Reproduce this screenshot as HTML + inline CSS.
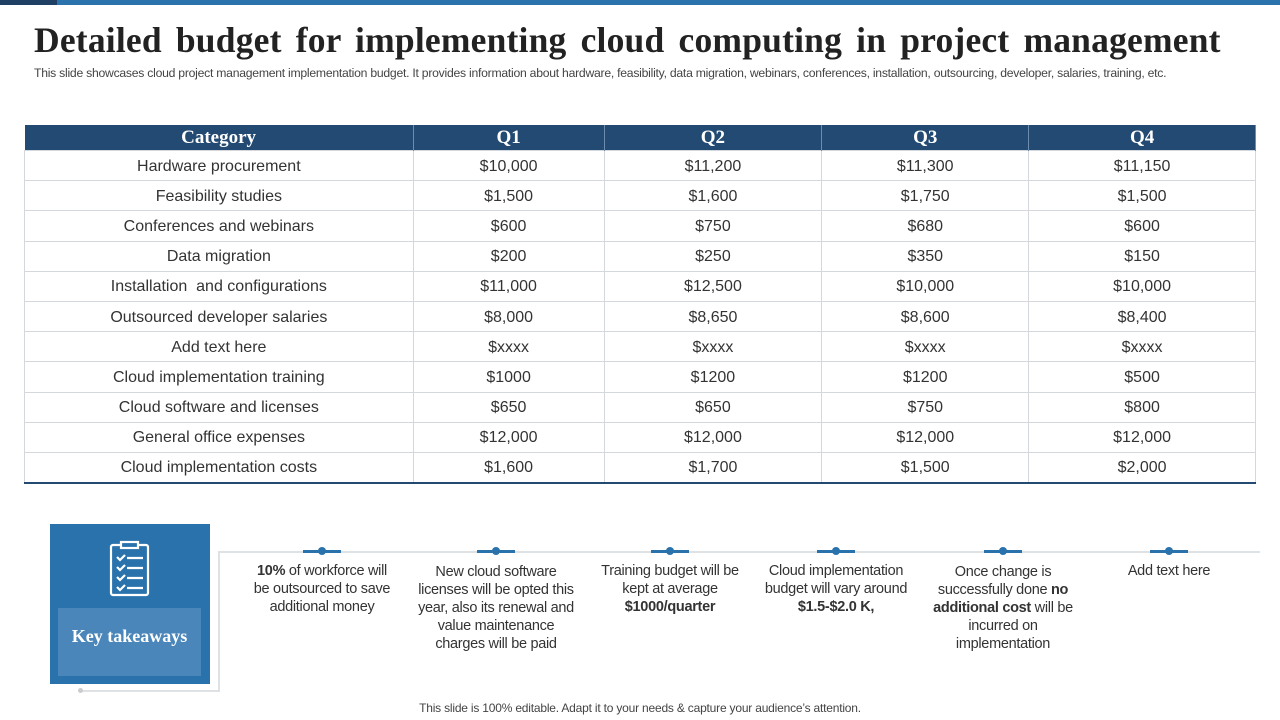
<!DOCTYPE html>
<html><head><meta charset="utf-8"><style>
*{margin:0;padding:0;box-sizing:border-box}
body{width:1280px;height:720px;background:#fff;position:relative;overflow:hidden;font-family:"Liberation Sans",sans-serif;color:#333}
.abs{position:absolute}
table{border-collapse:collapse;position:absolute;left:24px;top:125px;width:1232px}
th{background:#234a72;color:#fff;font-family:"Liberation Serif",serif;font-weight:bold;font-size:19px;height:25px;border-right:1px solid #6d8cae;padding:0;line-height:25px}
td{height:30.2px;font-size:16px;text-align:center;border:1px solid #d4d8dc;padding:0;color:#333;padding-top:2px}
tr:last-child td{border-bottom:2px solid #234a72}
.tk{position:absolute;top:562px;width:160px;text-align:center;font-size:14.5px;line-height:18px;color:#333;letter-spacing:-0.3px}
.dot{position:absolute;top:546px;width:38px;height:10px}
.dot:before{content:"";position:absolute;left:0;right:0;top:4px;height:2.5px;background:#2a72ac}
.dot:after{content:"";position:absolute;left:15px;top:1px;width:8px;height:8px;border-radius:50%;background:#2a72ac}
</style></head><body>
<div class="abs" style="left:0;top:0;width:1280px;height:5px;background:#2a73ad"></div>
<div class="abs" style="left:0;top:0;width:57px;height:5px;background:#1f3f63"></div>
<div class="abs" style="left:34px;top:19px;font-family:'Liberation Serif',serif;font-weight:bold;font-size:35.5px;color:#222;letter-spacing:0.2px;word-spacing:5px">Detailed budget for implementing cloud computing in project management</div>
<div class="abs" style="left:34px;top:66px;font-size:12.2px;color:#444;letter-spacing:-0.25px">This slide showcases cloud project management implementation budget. It provides information about hardware, feasibility, data migration, webinars, conferences, installation, outsourcing, developer, salaries, training, etc.</div>
<table>
<colgroup><col style="width:389px"><col style="width:191px"><col style="width:218px"><col style="width:207px"><col style="width:227px"></colgroup>
<tr><th>Category</th><th>Q1</th><th>Q2</th><th>Q3</th><th>Q4</th></tr>
<tr><td>Hardware procurement</td><td>$10,000</td><td>$11,200</td><td>$11,300</td><td>$11,150</td></tr>
<tr><td>Feasibility studies</td><td>$1,500</td><td>$1,600</td><td>$1,750</td><td>$1,500</td></tr>
<tr><td>Conferences and webinars</td><td>$600</td><td>$750</td><td>$680</td><td>$600</td></tr>
<tr><td>Data migration</td><td>$200</td><td>$250</td><td>$350</td><td>$150</td></tr>
<tr><td>Installation&nbsp; and configurations</td><td>$11,000</td><td>$12,500</td><td>$10,000</td><td>$10,000</td></tr>
<tr><td>Outsourced developer salaries</td><td>$8,000</td><td>$8,650</td><td>$8,600</td><td>$8,400</td></tr>
<tr><td>Add text here</td><td>$xxxx</td><td>$xxxx</td><td>$xxxx</td><td>$xxxx</td></tr>
<tr><td>Cloud implementation training</td><td>$1000</td><td>$1200</td><td>$1200</td><td>$500</td></tr>
<tr><td>Cloud software and licenses</td><td>$650</td><td>$650</td><td>$750</td><td>$800</td></tr>
<tr><td>General office expenses</td><td>$12,000</td><td>$12,000</td><td>$12,000</td><td>$12,000</td></tr>
<tr><td>Cloud implementation costs</td><td>$1,600</td><td>$1,700</td><td>$1,500</td><td>$2,000</td></tr>
</table>
<div class="abs" style="left:218px;top:551px;width:1042px;height:1.5px;background:#dfe2e5"></div>
<div class="abs" style="left:218px;top:551px;width:1.5px;height:140px;background:#dfe2e5"></div>
<div class="abs" style="left:80px;top:690px;width:140px;height:1.5px;background:#dfe2e5"></div>
<div class="abs" style="left:78px;top:688px;width:5px;height:5px;border-radius:50%;background:#ccc"></div>
<div class="abs" style="left:50px;top:524px;width:160px;height:160px;background:#2a72ac">
<svg style="position:absolute;left:58px;top:16px" width="44" height="58" viewBox="0 0 44 58" fill="none" stroke="#fff" stroke-width="2.2">
<rect x="3" y="5" width="37" height="50" rx="2"/><rect x="13" y="2" width="17" height="6" fill="#2a72ac"/>
<path d="M9 17l3 3 5-5M9 27l3 3 5-5M9 37l3 3 5-5M9 47l3 3 5-5M19 18h16M19 28h16M19 38h16M19 48h16"/>
</svg>
<div style="position:absolute;left:8px;top:84px;width:143px;height:68px;background:#4a86ba;color:#fff;font-family:'Liberation Serif',serif;font-weight:bold;font-size:18px;text-align:center;line-height:56px">Key takeaways</div>
</div>
<div class="dot" style="left:303px"></div>
<div class="dot" style="left:477px"></div>
<div class="dot" style="left:651px"></div>
<div class="dot" style="left:817px"></div>
<div class="dot" style="left:984px"></div>
<div class="dot" style="left:1150px"></div>
<div class="tk" style="left:237px;width:170px;top:562px"><b>10%</b> of workforce will<br>be outsourced to save<br>additional money</div>
<div class="tk" style="left:406px;top:563px;width:180px">New cloud software<br>licenses will be opted this<br>year, also its renewal and<br>value maintenance<br>charges will be paid</div>
<div class="tk" style="left:580px;width:180px">Training budget will be<br>kept at average<br><b>$1000/quarter</b></div>
<div class="tk" style="left:746px;width:180px">Cloud implementation<br>budget will vary around<br><b>$1.5-$2.0 K,</b></div>
<div class="tk" style="left:913px;top:563px;width:180px">Once change is<br>successfully done <b>no</b><br><b>additional cost</b> will be<br>incurred on<br>implementation</div>
<div class="tk" style="left:1079px;width:180px">Add text here</div>
<div class="abs" style="left:0;width:1280px;top:701px;text-align:center;font-size:12px;color:#444;letter-spacing:-0.2px">This slide is 100% editable. Adapt it to your needs &amp; capture your audience’s attention.</div>
</body></html>
